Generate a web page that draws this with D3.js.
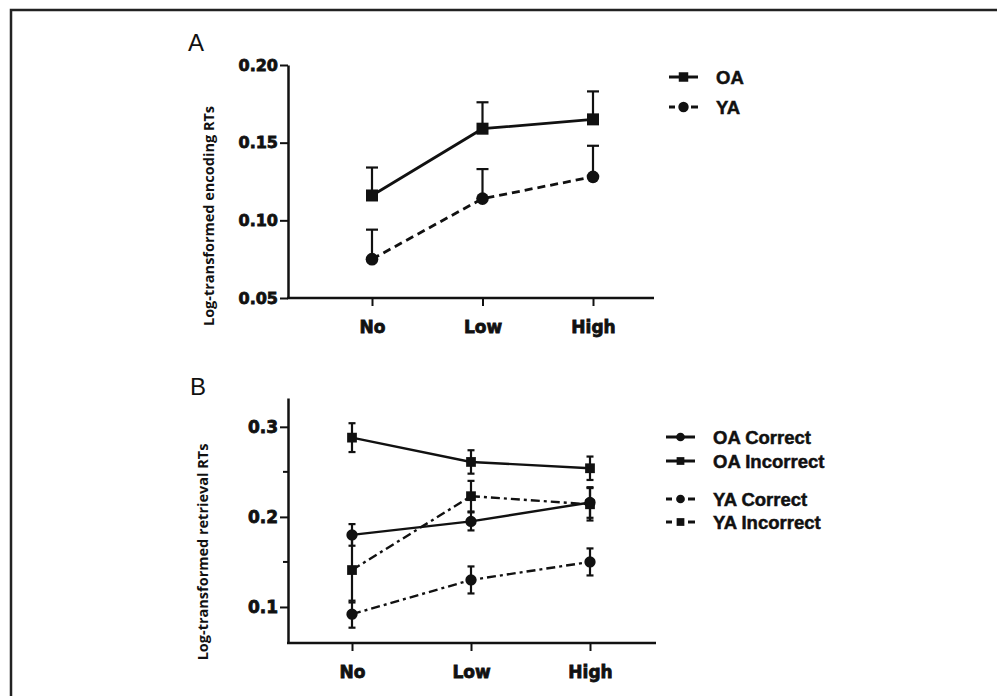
<!DOCTYPE html>
<html>
<head>
<meta charset="utf-8">
<script src="https://cdn.jsdelivr.net/npm/d3@7"></script>
<style>
  body { margin: 0; background: #fff; }
  svg { display: block; }
</style>
</head>
<body>
<div id="chart"></div>
<script>
'use strict';

// conditions on the x axis
var categories = ['No', 'Low', 'High'];

// panel A: encoding RTs (mean, upper SE)
var encOA = [0.116, 0.159, 0.165];
var encOAErr = [0.018, 0.017, 0.018];
var encYA = [0.075, 0.114, 0.128];
var encYAErr = [0.019, 0.019, 0.020];
var encTicks = [0.05, 0.10, 0.15, 0.20];

// panel B: retrieval RTs (mean, SE)
var retOACorrect = [0.180, 0.195, 0.216];
var retOACorrectErr = [0.012, 0.010, 0.017];
var retOAIncorrect = [0.288, 0.261, 0.254];
var retOAIncorrectErr = [0.016, 0.013, 0.013];
var retYACorrect = [0.092, 0.130, 0.150];
var retYACorrectErr = [0.015, 0.015, 0.015];
var retYAIncorrect = [0.141, 0.223, 0.214];
var retYAIncorrectErr = [0.036, 0.017, 0.018];
var retTicks = [0.1, 0.2, 0.3];
var retMinorTicks = [0.15, 0.25];

var width = 997, height = 696;
var ink = '#111';
var tickFont = 'DejaVu Sans, sans-serif';

var svg = d3.select('#chart').append('svg')
  .attr('width', width)
  .attr('height', height);

// frame
svg.append('path')
  .attr('d', 'M11,' + height + 'V10H' + width)
  .attr('fill', 'none')
  .attr('stroke', '#222')
  .attr('stroke-width', 2.5);

function drawPanel(p) {
  var g = svg.append('g');

  var x = d3.scalePoint().domain(categories).range(p.xRange);
  var y = d3.scaleLinear().domain(p.yDomain).range(p.yRange);

  // panel letter
  g.append('text')
    .attr('x', p.letterX)
    .attr('y', p.letterY)
    .style('font-family', 'Liberation Sans, Arial, sans-serif')
    .style('font-size', '24px')
    .style('fill', ink)
    .text(p.letter);

  // y axis
  var yAxis = g.append('g')
    .attr('transform', 'translate(' + p.axisX + ',0)')
    .call(d3.axisLeft(y).tickValues(p.ticks).tickSize(8).tickSizeOuter(0).tickPadding(2).tickFormat(d3.format(p.fmt)));
  yAxis.selectAll('text')
    .style('font-family', tickFont)
    .style('font-weight', 'bold')
    .style('font-size', p.tickFontSize + 'px')
    .style('fill', ink)
    .style('stroke', ink)
    .style('stroke-width', 0.8);

  if (p.minorTicks) {
    yAxis.selectAll('.minor')
      .data(p.minorTicks)
      .enter()
      .append('line')
      .attr('class', 'minor')
      .attr('x1', -5)
      .attr('x2', 0)
      .attr('y1', function(d) { return y(d); })
      .attr('y2', function(d) { return y(d); });
  }
  yAxis.selectAll('line').attr('stroke', ink).attr('stroke-width', 2);
  yAxis.select('.domain').attr('stroke', ink).attr('stroke-width', 2.5);

  // x axis
  var xAxis = g.append('g')
    .attr('transform', 'translate(0,' + p.yRange[0] + ')')
    .call(d3.axisBottom(x).tickSize(8).tickPadding(15));
  xAxis.select('.domain').remove();
  xAxis.append('line')
    .attr('x1', p.axisX - 1)
    .attr('x2', p.axisEnd)
    .attr('stroke', ink)
    .attr('stroke-width', 2.5);
  xAxis.selectAll('.tick line').attr('stroke', ink).attr('stroke-width', 2);
  xAxis.selectAll('text')
    .style('font-family', tickFont)
    .style('font-weight', 'bold')
    .style('font-size', '17px')
    .style('fill', ink)
    .style('stroke', ink)
    .style('stroke-width', 0.8);

  // y axis title
  g.append('text')
    .attr('transform', 'translate(' + p.titleX + ',' + p.titleY + ') rotate(-90)')
    .attr('text-anchor', 'middle')
    .style('font-family', 'Open Sans, sans-serif')
    .style('font-weight', 700)
    .style('font-size', '14.5px')
    .style('fill', ink)
    .text(p.title);

  var line = d3.line()
    .x(function(d, i) { return x(categories[i]); })
    .y(function(d) { return y(d); });

  p.series.forEach(function(s) {
    g.append('path')
      .datum(s.values)
      .attr('d', line)
      .attr('fill', 'none')
      .attr('stroke', ink)
      .attr('stroke-width', p.lineWidth)
      .attr('stroke-dasharray', s.dash);
  });

  p.series.forEach(function(s) {
    var eb = g.append('g');
    s.values.forEach(function(v, i) {
      var cx = x(categories[i]);
      var top = y(v + s.err[i]);
      var bottom = p.upperOnly ? y(v) : y(v - s.err[i]);
      eb.append('line')
        .attr('x1', cx).attr('x2', cx)
        .attr('y1', top).attr('y2', bottom)
        .attr('stroke', ink).attr('stroke-width', 2.2);
      eb.append('line')
        .attr('x1', cx - p.capW / 2).attr('x2', cx + p.capW / 2)
        .attr('y1', top).attr('y2', top)
        .attr('stroke', ink).attr('stroke-width', 2.2);
      if (!p.upperOnly) {
        eb.append('line')
          .attr('x1', cx - p.capW / 2).attr('x2', cx + p.capW / 2)
          .attr('y1', bottom).attr('y2', bottom)
          .attr('stroke', ink).attr('stroke-width', 2.2);
      }
    });
  });

  p.series.forEach(function(s) {
    g.selectAll(null)
      .data(s.values)
      .enter()
      .append('path')
      .attr('transform', function(d, i) { return 'translate(' + x(categories[i]) + ',' + y(d) + ')'; })
      .attr('d', d3.symbol().type(s.shape === 'square' ? d3.symbolSquare : d3.symbolCircle).size(s.shape === 'square' ? p.squareSize : p.circleSize))
      .attr('fill', ink);
  });

  // legend
  var legend = g.append('g');
  p.legend.forEach(function(s, i) {
    var ly = p.legendY[i];
    var row = legend.append('g').attr('transform', 'translate(' + p.legendX + ',' + ly + ')');
    if (s.dash) {
      row.append('line').attr('x1', 0).attr('x2', 6).attr('stroke', ink).attr('stroke-width', 3);
      row.append('line').attr('x1', 22).attr('x2', 29).attr('stroke', ink).attr('stroke-width', 3);
    } else {
      row.append('line').attr('x1', 0).attr('x2', 29).attr('stroke', ink).attr('stroke-width', 3);
    }
    row.append('path')
      .attr('transform', 'translate(14.5,0)')
      .attr('d', d3.symbol().type(s.shape === 'square' ? d3.symbolSquare : d3.symbolCircle).size(s.shape === 'square' ? p.legendSquare : p.legendCircle))
      .attr('fill', ink);
    row.append('text')
      .attr('x', p.legendTextDx)
      .attr('dy', '0.36em')
      .style('font-family', 'Liberation Sans, Arial, sans-serif')
      .style('font-weight', 'bold')
      .style('font-size', '18.5px')
      .style('fill', ink)
      .style('stroke', ink)
      .style('stroke-width', 0.5)
      .text(s.name);
  });
}

var solid = null;
var dashed = '8,5';
var dashDot = '9,4,3,4';

drawPanel({
  letter: 'A', letterX: 188, letterY: 51,
  xRange: [372, 593], axisX: 288, axisEnd: 654,
  yDomain: [0.05, 0.20], yRange: [298, 65],
  ticks: encTicks, fmt: '.2f', tickFontSize: 16,
  title: 'Log-transformed encoding RTs', titleX: 214, titleY: 216,
  lineWidth: 2.8, capW: 12, upperOnly: true,
  squareSize: 144, circleSize: 125,
  series: [
    {values: encOA, err: encOAErr, dash: solid, shape: 'square'},
    {values: encYA, err: encYAErr, dash: dashed, shape: 'circle'}
  ],
  legendX: 669, legendTextDx: 47, legendY: [77, 107],
  legendSquare: 90, legendCircle: 85,
  legend: [
    {name: 'OA', dash: false, shape: 'square'},
    {name: 'YA', dash: true, shape: 'circle'}
  ]
});

drawPanel({
  letter: 'B', letterX: 190, letterY: 395,
  xRange: [352, 590], axisX: 288, axisEnd: 656,
  yDomain: [0.06, 0.332], yRange: [643, 398],
  ticks: retTicks, minorTicks: retMinorTicks, fmt: '.1f', tickFontSize: 17,
  title: 'Log-transformed retrieval RTs', titleX: 208, titleY: 552,
  lineWidth: 2.4, capW: 7, upperOnly: false,
  squareSize: 95, circleSize: 100,
  series: [
    {values: retOACorrect, err: retOACorrectErr, dash: solid, shape: 'circle'},
    {values: retOAIncorrect, err: retOAIncorrectErr, dash: solid, shape: 'square'},
    {values: retYACorrect, err: retYACorrectErr, dash: dashDot, shape: 'circle'},
    {values: retYAIncorrect, err: retYAIncorrectErr, dash: dashDot, shape: 'square'}
  ],
  legendX: 666, legendTextDx: 47, legendY: [437, 461, 499, 522],
  legendSquare: 60, legendCircle: 60,
  legend: [
    {name: 'OA Correct', dash: false, shape: 'circle'},
    {name: 'OA Incorrect', dash: false, shape: 'square'},
    {name: 'YA Correct', dash: true, shape: 'circle'},
    {name: 'YA Incorrect', dash: true, shape: 'square'}
  ]
});
</script>
</body>
</html>
